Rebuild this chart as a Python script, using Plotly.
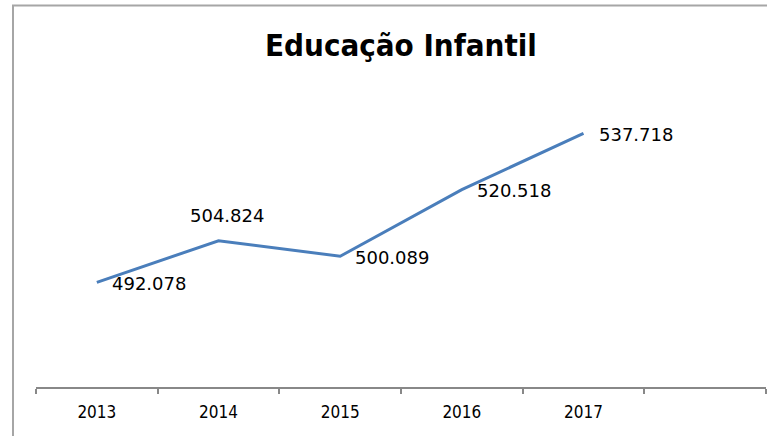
import plotly.graph_objects as go

years = ["2013", "2014", "2015", "2016", "2017"]
values = [492.078, 504.824, 500.089, 520.518, 537.718]
value_labels = ["492.078", "504.824", "500.089", "520.518", "537.718"]
label_pos = ["right", "top", "right", "right", "right"]
categories = years + [" "]

W, H = 767, 436
ml, mr, mt, mb = 36, 1, 126, 49
pw, ph = W - ml - mr, H - mt - mb

fig = go.Figure()
fig.add_trace(go.Scatter(
    x=years, y=values, mode="lines",
    line=dict(color="#4A7EBB", width=3),
    hoverinfo="skip", showlegend=False,
))

annotations = []
for i, (y, t, p) in enumerate(zip(values, value_labels, label_pos)):
    if p == "top":
        annotations.append(dict(x=i, y=y, text=t, showarrow=False, xanchor="center",
                                yanchor="middle", xshift=8, yshift=25, xref="x", yref="y",
                                font=dict(family="DejaVu Sans", size=18, color="#000")))
    else:
        annotations.append(dict(x=i, y=y, text=t, showarrow=False, xanchor="left",
                                yanchor="middle", xshift=13, yshift=-1, xref="x", yref="y",
                                font=dict(family="DejaVu Sans", size=18, color="#000")))

annotations.append(dict(text="<b>Educação Infantil</b>", x=0.5, y=(H - 45 - mb) / ph,
                        xref="paper", yref="paper", xanchor="center", yanchor="middle",
                        showarrow=False,
                        font=dict(family="DejaVu Sans Condensed", size=31, color="#000")))

fig.update_layout(
    width=W, height=H,
    margin=dict(l=ml, r=mr, t=mt, b=mb, pad=0),
    paper_bgcolor="white", plot_bgcolor="white",
    annotations=annotations,
    xaxis=dict(type="category", categoryorder="array", categoryarray=categories,
               range=[-0.5, 5.5], tickson="boundaries", ticks="outside", ticklen=5,
               tickcolor="#888", tickwidth=1.5, showline=True, linecolor="#888",
               linewidth=1.5, showgrid=False, zeroline=False, ticklabelstandoff=9,
               tickfont=dict(family="DejaVu Sans Condensed", size=17, color="#000"),
               fixedrange=True),
    yaxis=dict(range=[460, 540], showticklabels=False, ticks="", showline=False,
               showgrid=False, zeroline=False, fixedrange=True),
    shapes=[dict(type="rect", xref="paper", yref="paper",
                 x0=(13 - ml) / pw, x1=(W + 20 - ml) / pw,
                 y0=-(H + 20 - mt - ph) / ph, y1=1 + (mt - 5.5) / ph,
                 line=dict(color="#a6a6a6", width=2), layer="below")],
)
fig.write_html("out.html", config={"displayModeBar": False},
               post_script="document.body.style.margin='0';document.body.style.overflow='hidden';")
